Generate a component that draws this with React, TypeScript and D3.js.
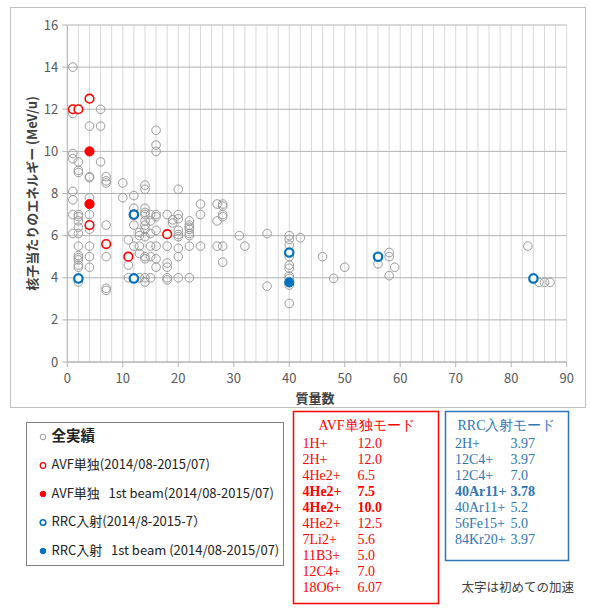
import React from "react";
import * as d3 from "d3";

// ---- data ----
const allMass = [
  1, 1, 1, 1, 1, 1, 1, 1,
  2, 2, 2, 2, 2, 2, 2, 2, 2, 2, 2, 2, 2, 2, 2, 2,
  4, 4, 4, 4, 4, 4, 4, 4, 4,
  6, 6, 6,
  7, 7, 7, 7, 7, 7, 7,
  10, 10,
  11, 11, 11,
  12, 12, 12, 12, 12,
  13, 13, 13, 13, 13,
  14, 14, 14, 14, 14, 14, 14, 14, 14, 14, 14, 14, 14,
  15, 15, 15, 15, 15, 15,
  16, 16, 16, 16, 16, 16, 16, 16, 16,
  18, 18, 18, 18, 18, 18,
  19, 19,
  20, 20, 20, 20, 20, 20, 20, 20, 20,
  22, 22, 22, 22, 22, 22, 22, 22,
  24, 24, 24,
  27, 27, 27,
  28, 28, 28, 28, 28, 28,
  31, 32, 36, 36,
  40, 40, 40, 40, 40, 40, 40, 40, 40, 40,
  42, 46, 48, 50, 56,
  58, 58, 58, 59,
  83, 85, 86, 87,
];
const allEnergy = [
  14.0, 11.8, 9.9, 9.65, 8.1, 7.7, 7.0, 6.1,
  9.5, 9.1, 9.0, 7.0, 6.9, 6.7, 6.4, 6.1, 5.5, 5.05, 4.95, 4.85, 4.6, 4.5, 3.97, 3.8,
  11.2, 8.8, 8.75, 7.8, 7.0, 6.3, 5.5, 5.0, 4.5,
  12.0, 11.2, 9.5,
  8.8, 8.6, 8.5, 6.5, 5.0, 3.5, 3.4,
  8.5, 7.8,
  5.8, 4.6, 4.0,
  7.9, 7.3, 6.5, 5.5, 4.0,
  6.15, 6.0, 5.5, 5.15, 4.0,
  8.4, 8.2, 7.3, 7.1, 7.0, 6.7, 6.5, 6.3, 5.95, 5.0, 4.9, 4.0, 3.8,
  7.0, 6.7, 6.1, 5.5, 5.0, 4.0,
  11.0, 10.3, 10.0, 7.0, 6.9, 6.25, 5.5, 4.9, 4.5,
  7.0, 5.5, 4.7, 4.5, 4.0, 3.9,
  6.75, 6.6,
  8.2, 7.0, 6.8, 6.25, 6.05, 5.95, 5.4, 5.0, 4.0,
  6.7, 6.5, 6.4, 6.3, 6.1, 6.0, 5.5, 4.0,
  7.5, 7.0, 5.5,
  7.5, 6.7, 5.5,
  7.5, 7.4, 7.0, 6.9, 5.5, 4.74,
  6.0, 5.5, 6.1, 3.6,
  6.0, 5.82, 5.55, 5.0, 4.6, 4.45, 4.08, 3.97, 3.65, 2.78,
  5.9, 5.0, 3.97, 4.5, 4.66,
  5.2, 5.0, 4.1, 4.5,
  5.5, 3.78, 3.78, 3.78,
];

const avfMass = [1, 2, 4, 4, 7, 11, 12, 18];
const avfEnergy = [12.0, 12.0, 6.5, 12.5, 5.6, 5.0, 7.0, 6.07];
const avfFirstMass = [4, 4];
const avfFirstEnergy = [7.5, 10.0];
const rrcMass = [2, 12, 12, 40, 56, 84];
const rrcEnergy = [3.97, 3.97, 7.0, 5.2, 5.0, 3.97];
const rrcFirstMass = [40];
const rrcFirstEnergy = [3.78];

const xTicks = [0, 10, 20, 30, 40, 50, 60, 70, 80, 90];
const yTicks = [0, 2, 4, 6, 8, 10, 12, 14, 16];

const legendLabels = [
  "全実績",
  "AVF単独(2014/08-2015/07)",
  "AVF単独\u00a0\u00a0\u00a01st beam(2014/08-2015/07)",
  "RRC入射(2014/8-2015-7）",
  "RRC入射\u00a0\u00a0\u00a01st beam (2014/08-2015/07)",
];

const avfIons = ["1H+", "2H+", "4He2+", "4He2+", "4He2+", "4He2+", "7Li2+", "11B3+", "12C4+", "18O6+"];
const avfValues = ["12.0", "12.0", "6.5", "7.5", "10.0", "12.5", "5.6", "5.0", "7.0", "6.07"];
const avfBold = [false, false, false, true, true, false, false, false, false, false];

const rrcIons = ["2H+", "12C4+", "12C4+", "40Ar11+", "40Ar11+", "56Fe15+", "84Kr20+"];
const rrcValues = ["3.97", "3.97", "7.0", "3.78", "5.2", "5.0", "3.97"];
const rrcBold = [false, false, false, true, false, false, false];

// ---- styles ----
const RED = "#ff0000";
const BLUE = "#0070c0";
const GRAY = "#9a9a9a";
const TXT = "#595959";
const SANS = "'Noto Sans CJK JP', 'Noto Sans', sans-serif";
const SERIF = "'Liberation Serif', 'DejaVu Serif', serif";

export default function App() {
  const W = 590, H = 612;
  const left = 67.3, right = 566.7, top = 25, bottom = 362;
  const x = d3.scaleLinear().domain([0, 90]).range([left, right]);
  const y = d3.scaleLinear().domain([0, 16]).range([bottom, top]);
  const minorX = d3.range(0, 91, 2);

  const legendMarkers = [
    { stroke: GRAY, fill: "none", sw: 1 },
    { stroke: RED, fill: "none", sw: 1.2 },
    { stroke: RED, fill: RED, sw: 1 },
    { stroke: BLUE, fill: "none", sw: 1.6 },
    { stroke: BLUE, fill: BLUE, sw: 1 },
  ];

  return (
    <svg width={W} height={H} style={{ position: "absolute", left: 0, top: 0, background: "#fff" }}>
      {/* chart frame */}
      <rect x={10.5} y={7.5} width={575} height={400} fill="none" stroke="#bfbfbf" strokeWidth={1} />

      {/* vertical grid */}
      {minorX.map((v) => (
        <line key={"vx" + v} x1={x(v)} x2={x(v)} y1={top} y2={bottom} stroke="#d9d9d9" strokeWidth={1} />
      ))}
      {/* horizontal grid */}
      {yTicks.map((v) => (
        <line key={"hy" + v} x1={left} x2={right} y1={y(v)} y2={y(v)} stroke="#b3b3b3" strokeWidth={1} />
      ))}
      {/* axes */}
      <line x1={left} x2={left} y1={top} y2={bottom} stroke="#b3b3b3" />
      <line x1={left} x2={right} y1={bottom} y2={bottom} stroke="#b3b3b3" />
      {yTicks.map((v) => (
        <g key={"yt" + v}>
          <line x1={left - 5} x2={left} y1={y(v)} y2={y(v)} stroke="#b3b3b3" />
          <text x={left - 9} y={y(v)} dy="0.35em" textAnchor="end" fontSize={13} fill={TXT} fontFamily={SANS}>
            {v}
          </text>
        </g>
      ))}
      {xTicks.map((v) => (
        <g key={"xt" + v}>
          <line x1={x(v)} x2={x(v)} y1={bottom} y2={bottom + 5} stroke="#b3b3b3" />
          <text x={x(v)} y={bottom + 21} textAnchor="middle" fontSize={13} fill={TXT} fontFamily={SANS}>
            {v}
          </text>
        </g>
      ))}
      {/* axis titles */}
      <text x={315} y={403} textAnchor="middle" fontSize={13} fontWeight="bold" fill="#404040" fontFamily={SANS}>
        質量数
      </text>
      <text
        transform={`translate(37,${(top + bottom) / 2}) rotate(-90)`}
        textAnchor="middle"
        fontSize={13}
        fontWeight="bold"
        fill="#404040"
        fontFamily={SANS}
      >
        核子当たりのエネルギー (MeV/u)
      </text>

      {/* points */}
      {allMass.map((m, i) => (
        <circle key={"a" + i} cx={x(m)} cy={y(allEnergy[i])} r={4.3} fill="none" stroke={GRAY} strokeWidth={1} />
      ))}
      {avfMass.map((m, i) => (
        <circle key={"r" + i} cx={x(m)} cy={y(avfEnergy[i])} r={4.3} fill="#fff" stroke={RED} strokeWidth={1.6} />
      ))}
      {avfFirstMass.map((m, i) => (
        <circle key={"rf" + i} cx={x(m)} cy={y(avfFirstEnergy[i])} r={4.6} fill={RED} stroke={RED} strokeWidth={1} />
      ))}
      {rrcMass.map((m, i) => (
        <circle key={"b" + i} cx={x(m)} cy={y(rrcEnergy[i])} r={4.2} fill="#fff" stroke={BLUE} strokeWidth={2.2} />
      ))}
      {rrcFirstMass.map((m, i) => (
        <circle key={"bf" + i} cx={x(m)} cy={y(rrcFirstEnergy[i])} r={4.6} fill={BLUE} stroke={BLUE} strokeWidth={1} />
      ))}

      {/* legend */}
      <rect x={26.5} y={422.5} width={257} height={143} fill="#fff" stroke="#7f7f7f" strokeWidth={1} />
      {legendLabels.map((t, i) => {
        const cy = 436 + i * 28.5;
        const mk = legendMarkers[i];
        return (
          <g key={"lg" + i}>
            <circle cx={43} cy={cy + 1} r={2.8} fill={mk.fill} stroke={mk.stroke} strokeWidth={mk.sw} />
            <text
              x={51.5}
              y={cy}
              dy="0.35em"
              fontSize={i === 0 ? 14.5 : 13}
              fontWeight={i === 0 ? "bold" : "normal"}
              fill="#222"
              fontFamily={SANS}
            >
              {t}
            </text>
          </g>
        );
      })}

      {/* AVF table */}
      <rect x={293.5} y={411.5} width={145} height={192} fill="#fff" stroke={RED} strokeWidth={1.5} />
      <text x={366.5} y={425} dy="0.35em" textAnchor="middle" fontSize={14} fill={RED} fontFamily={SERIF}>
        AVF単独モード
      </text>
      {avfIons.map((ion, i) => (
        <g key={"av" + i} fontWeight={avfBold[i] ? "bold" : "normal"}>
          <text x={302.5} y={443.5 + i * 16} dy="0.35em" fontSize={14} fill={RED} fontFamily={SERIF}>
            {ion}
          </text>
          <text x={357.5} y={443.5 + i * 16} dy="0.35em" fontSize={14} fill={RED} fontFamily={SERIF}>
            {avfValues[i]}
          </text>
        </g>
      ))}

      {/* RRC table */}
      <rect x={445.5} y={411.5} width={123} height={149} fill="#fff" stroke="#2e75b6" strokeWidth={1.5} />
      <text x={506.5} y={425} dy="0.35em" textAnchor="middle" fontSize={14} fill="#2e75b6" fontFamily={SERIF}>
        RRC入射モード
      </text>
      {rrcIons.map((ion, i) => (
        <g key={"rr" + i} fontWeight={rrcBold[i] ? "bold" : "normal"}>
          <text x={455} y={443 + i * 16} dy="0.35em" fontSize={14} fill="#2e75b6" fontFamily={SERIF}>
            {ion}
          </text>
          <text x={510.5} y={443 + i * 16} dy="0.35em" fontSize={14} fill="#2e75b6" fontFamily={SERIF}>
            {rrcValues[i]}
          </text>
        </g>
      ))}

      <text x={461.5} y={588} dy="0.35em" fontSize={12.5} fill="#404040" fontFamily={SANS}>
        太字は初めての加速
      </text>
    </svg>
  );
}
